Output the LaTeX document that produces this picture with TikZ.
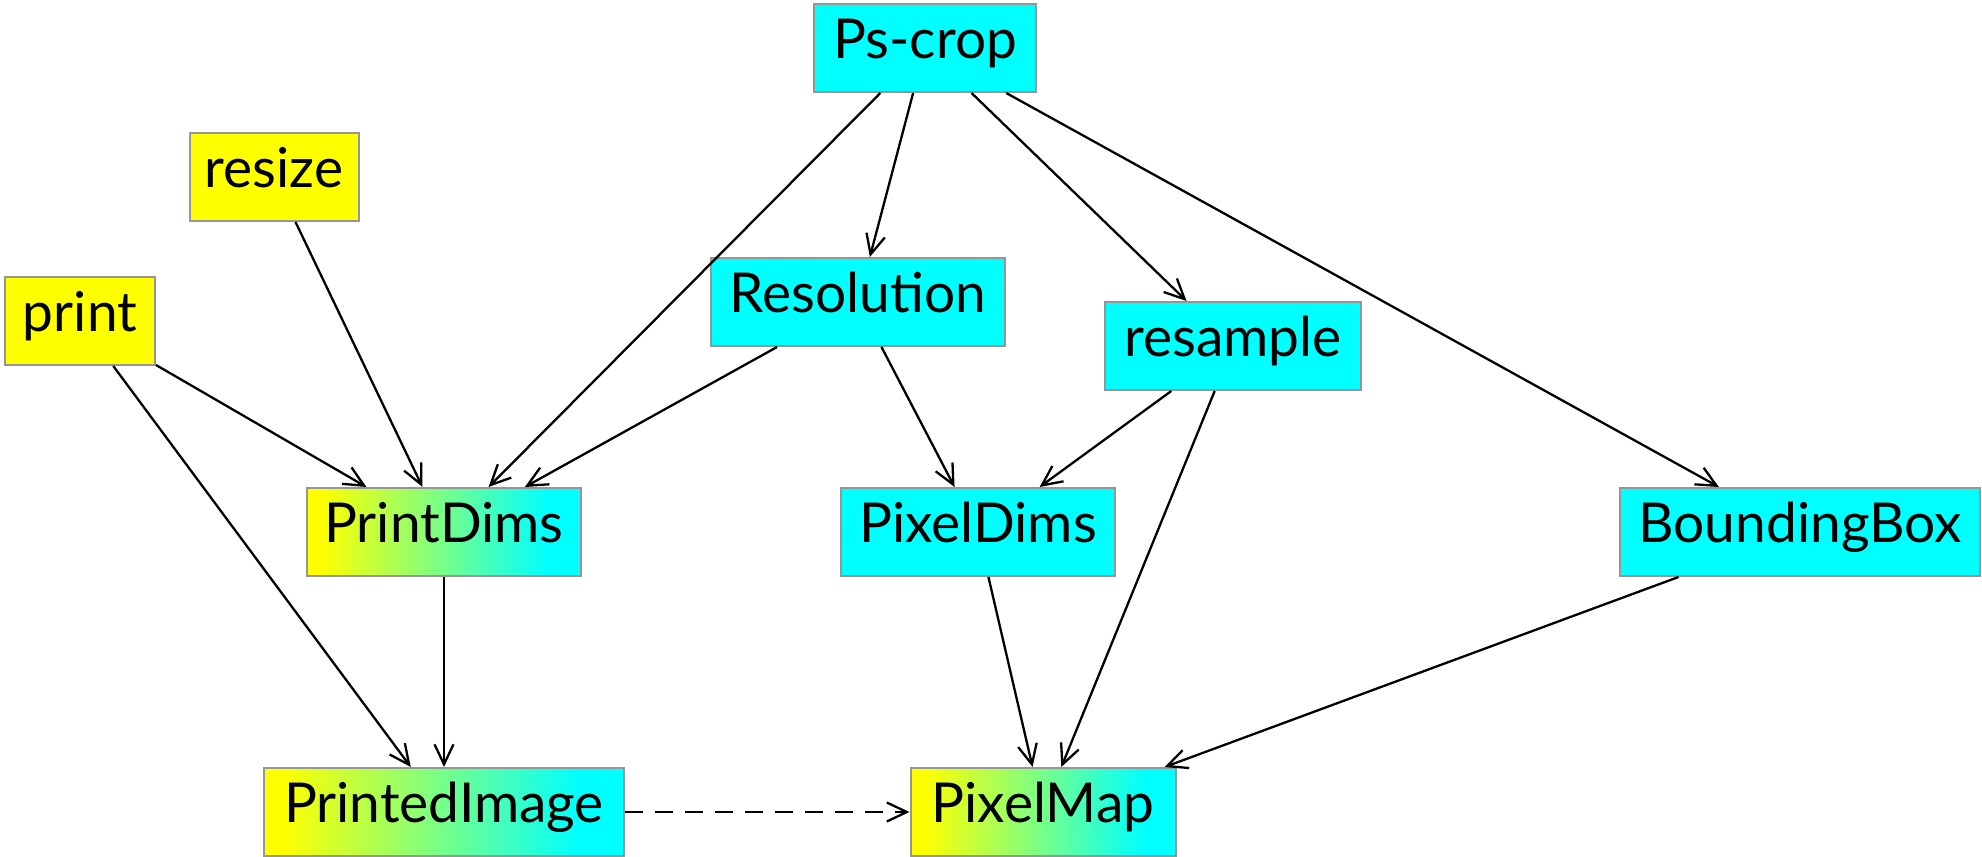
\documentclass[tikz,border=0pt]{standalone}
\usepackage{fontspec}
\setmainfont{Lato}
\usetikzlibrary{arrows.meta}
\definecolor{cy}{RGB}{0,255,255}
\definecolor{ye}{RGB}{255,255,0}
\definecolor{bd}{RGB}{150,150,150}
\pgfdeclarehorizontalshading{yc}{100bp}{color(0bp)=(ye); color(27.5bp)=(ye); color(69bp)=(cy); color(100bp)=(cy)}
\begin{document}
\begin{tikzpicture}[x=0.5pt,y=-0.5pt,
  box/.style={draw=bd, line width=1pt, inner xsep=0pt, inner ysep=0pt,
    text height=27pt, text depth=17pt, minimum height=44pt,
    font=\fontsize{27.5}{30}\selectfont},
  cbox/.style={box, fill=cy},
  ybox/.style={box, fill=ye},
  gbox/.style={box, shade, shading=yc},
  conn/.style={draw, line width=1.15pt, -{Straight Barb[length=10pt,width=9.5pt,line width=1.15pt]}},
  dconn/.style={conn, dash pattern=on 9pt off 6pt},
]
\useasboundingbox (0,0) rectangle (1982,857);
\node[cbox, minimum width=111pt] (ps) at (925,48) {Ps-crop};
\node[ybox, minimum width=84.5pt] (resize) at (274,177) {resize};
\node[ybox, minimum width=75pt] (print) at (80,321) {print};
\node[cbox, minimum width=147pt] (res) at (858,302) {Resolution};
\node[cbox, minimum width=128pt] (resample) at (1233,346) {resample};
\node[gbox, minimum width=137pt] (pd) at (444,532) {PrintDims};
\node[cbox, minimum width=137pt] (pxd) at (978,532) {PixelDims};
\node[cbox, minimum width=180pt] (bb) at (1800,532) {BoundingBox};
\node[gbox, minimum width=180pt] (pi) at (444,812) {PrintedImage};
\node[gbox, minimum width=132.5pt] (pm) at (1043,812) {PixelMap};

\draw[conn] (ps) -- (pd);
\draw[conn] (ps) -- (res);
\draw[conn] (ps) -- (resample);
\draw[conn] (ps) -- (bb);
\draw[conn] (resize) -- (pd);
\draw[conn] (print) -- (pd);
\draw[conn] (print) -- (pi);
\draw[conn] (res) -- (pd);
\draw[conn] (res) -- (pxd);
\draw[conn] (resample) -- (pxd);
\draw[conn] (resample) -- (pm);
\draw[conn] (pd) -- (pi);
\draw[conn] (pxd) -- (pm);
\draw[conn] (bb) -- (pm);
\draw[dconn] (pi) -- (pm);
\end{tikzpicture}
\end{document}
